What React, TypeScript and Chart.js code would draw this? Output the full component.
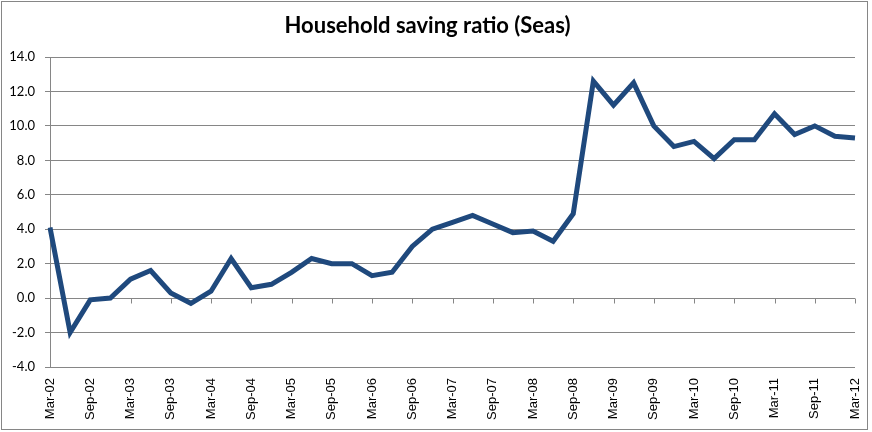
import React, { useEffect, useRef } from "react";
import { Chart, registerables } from "chart.js";

Chart.register(...registerables);

const TITLE = "Household saving ratio (Seas)";

const categories = [
  "Mar-02", "Jun-02", "Sep-02", "Dec-02",
  "Mar-03", "Jun-03", "Sep-03", "Dec-03",
  "Mar-04", "Jun-04", "Sep-04", "Dec-04",
  "Mar-05", "Jun-05", "Sep-05", "Dec-05",
  "Mar-06", "Jun-06", "Sep-06", "Dec-06",
  "Mar-07", "Jun-07", "Sep-07", "Dec-07",
  "Mar-08", "Jun-08", "Sep-08", "Dec-08",
  "Mar-09", "Jun-09", "Sep-09", "Dec-09",
  "Mar-10", "Jun-10", "Sep-10", "Dec-10",
  "Mar-11", "Jun-11", "Sep-11", "Dec-11",
  "Mar-12",
];

const savingRatio = [
  4.1, -2.0, -0.1, 0.0,
  1.1, 1.6, 0.3, -0.3,
  0.4, 2.3, 0.6, 0.8,
  1.5, 2.3, 2.0, 2.0,
  1.3, 1.5, 3.0, 4.0,
  4.4, 4.8, 4.3, 3.8,
  3.9, 3.3, 4.9, 12.6,
  11.2, 12.5, 10.0, 8.8,
  9.1, 8.1, 9.2, 9.2,
  10.7, 9.5, 10.0, 9.4,
  9.3,
];

const Y_MIN = -4;
const Y_MAX = 14;
const Y_STEP = 2;

const GRID = "#868686";
const LINE = "#1F497D";

const zeroAxisTicks = {
  id: "zeroAxisTicks",
  beforeDatasetsDraw(chart: any) {
    const xs = chart.scales.x;
    const ys = chart.scales.y;
    const ctx = chart.ctx;
    const y0 = Math.round(ys.getPixelForValue(0)) + 0.5;
    ctx.save();
    ctx.strokeStyle = GRID;
    ctx.lineWidth = 1;
    ctx.beginPath();
    for (let i = 0; i < categories.length; i += 2) {
      const x = Math.round(xs.getPixelForValue(i)) + 0.5;
      ctx.moveTo(x, y0);
      ctx.lineTo(x, y0 + 5);
    }
    ctx.stroke();
    ctx.restore();
  },
};

export default function App() {
  const canvasRef = useRef<HTMLCanvasElement | null>(null);

  useEffect(() => {
    document.body.style.margin = "0";
    const canvas = canvasRef.current;
    if (!canvas) return;
    const chart = new Chart(canvas, {
      type: "line",
      data: {
        labels: categories,
        datasets: [
          {
            label: TITLE,
            data: savingRatio,
            borderColor: LINE,
            backgroundColor: LINE,
            borderWidth: 5,
            pointRadius: 0,
            tension: 0,
            fill: false,
          },
        ],
      },
      options: {
        animation: false,
        responsive: false,
        devicePixelRatio: 1,
        layout: { padding: { left: 0, right: 17, top: 0, bottom: 0 } },
        plugins: {
          legend: { display: false },
          tooltip: { enabled: false },
          title: {
            display: true,
            text: TITLE,
            color: "#000",
            font: { family: "Lato", size: 22, weight: "bold" },
            padding: { top: 13, bottom: 17.6 },
          },
        },
        scales: {
          x: {
            type: "category",
            offset: false,
            grid: { display: false, drawTicks: false },
            border: { display: false },
            ticks: {
              autoSkip: false,
              maxRotation: 90,
              minRotation: 90,
              padding: 11,
              color: "#000",
              font: { family: "Liberation Sans", size: 13 },
              callback: (_v: any, i: number) => (i % 2 === 0 ? categories[i] : ""),
            },
            afterFit: (s: any) => {
              s.height = 65;
              s.paddingLeft = 0;
              s.paddingRight = 0;
            },
          },
          y: {
            min: Y_MIN,
            max: Y_MAX,
            ticks: {
              stepSize: Y_STEP,
              padding: 10,
              color: "#000",
              font: { family: "Lato", size: 13 },
              callback: (v: any) => Number(v).toFixed(1),
            },
            grid: { color: GRID, lineWidth: 1, drawTicks: true, tickLength: 5 },
            border: { display: true, color: GRID },
            afterFit: (s: any) => {
              s.width = 50;
            },
          },
        },
      },
      plugins: [zeroAxisTicks],
    } as any);
    return () => chart.destroy();
  }, []);

  return (
    <div style={{ position: "fixed", left: 0, top: 0, width: 872, height: 432, background: "#fff" }}>
      <canvas ref={canvasRef} width={872} height={432} style={{ display: "block" }} />
      <div
        style={{
          position: "absolute",
          left: 1,
          top: 1,
          width: 867,
          height: 429,
          border: `1px solid ${GRID}`,
          boxSizing: "border-box",
          pointerEvents: "none",
        }}
      />
    </div>
  );
}
